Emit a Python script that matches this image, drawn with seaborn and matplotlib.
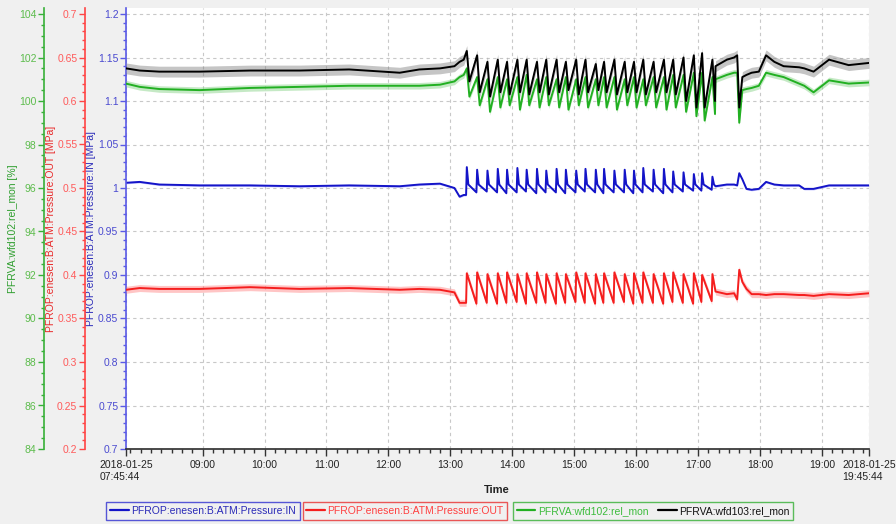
import pandas as pd
import numpy as np
import matplotlib
matplotlib.use("Agg")
import matplotlib.pyplot as plt
import matplotlib.dates as mdates
from matplotlib.lines import Line2D
from matplotlib.ticker import MultipleLocator
import seaborn as sns

DAY = "2018-01-25 "
t_start = "07:45:44"
t_end = "19:45:44"
hour_ticks = ["09:00", "10:00", "11:00", "12:00", "13:00", "14:00",
              "15:00", "16:00", "17:00", "18:00", "19:00"]

# time of each pressure peak during the oscillating period
cycle_times = ["13:16", "13:26", "13:36", "13:46", "13:55", "14:05", "14:14",
               "14:24", "14:33", "14:43", "14:52", "15:02", "15:11", "15:21",
               "15:29", "15:39", "15:49", "15:58", "16:07", "16:17", "16:27",
               "16:36", "16:46", "16:56", "17:04", "17:14"]

# calm period before / after the oscillations
pre_times = ["07:45:44", "07:59", "08:18", "08:57", "09:46", "10:34", "11:22",
             "12:11", "12:30", "12:50", "13:04", "13:09", "13:13"]
post_times = ["17:17", "17:28", "17:35", "17:38", "17:40", "17:43", "17:47",
              "17:52", "17:59", "18:06", "18:14", "18:23", "18:38", "18:43",
              "18:52", "19:07", "19:26", "19:45:44"]

# PFROP:enesen:B:ATM:Pressure:IN [MPa]
in_pre = [1.006, 1.007, 1.004, 1.003, 1.003, 1.002, 1.003, 1.002, 1.004, 1.005, 1.000, 0.990, 0.992]
in_peak = [1.024, 1.021, 1.020, 1.022, 1.021, 1.023, 1.021, 1.022, 1.020, 1.022, 1.021, 1.020, 1.022,
           1.021, 1.022, 1.020, 1.021, 1.020, 1.023, 1.021, 1.022, 1.019, 1.018, 1.016, 1.017, 1.013]
in_base = [0.992, 0.995, 0.996, 0.995, 0.994, 0.995, 0.996, 0.994, 0.995, 0.995, 0.994, 0.995, 0.996,
           0.995, 0.994, 0.995, 0.995, 0.994, 0.995, 0.996, 0.994, 0.995, 0.996, 0.997, 0.997, 0.998]
in_shoulder = 1.004
in_post = [1.002, 1.004, 1.004, 1.003, 1.017, 1.010, 0.999, 0.998, 0.999, 1.007, 1.004, 1.003,
           1.003, 0.999, 0.999, 1.003, 1.003, 1.003]

# PFROP:enesen:B:ATM:Pressure:OUT [MPa]
out_pre = [0.383, 0.385, 0.384, 0.384, 0.386, 0.384, 0.385, 0.383, 0.384, 0.383, 0.380, 0.368, 0.368]
out_peak = [0.402, 0.403, 0.401, 0.402, 0.403, 0.401, 0.402, 0.403, 0.401, 0.402, 0.401, 0.403, 0.402,
            0.401, 0.402, 0.403, 0.401, 0.402, 0.403, 0.401, 0.402, 0.403, 0.401, 0.402, 0.400, 0.401]
out_trough = [0.368, 0.367, 0.368, 0.367, 0.368, 0.369, 0.367, 0.368, 0.368, 0.367, 0.368, 0.369, 0.368,
              0.367, 0.368, 0.368, 0.369, 0.367, 0.368, 0.368, 0.367, 0.369, 0.368, 0.367, 0.369, 0.370]
out_post = [0.381, 0.378, 0.379, 0.372, 0.406, 0.392, 0.384, 0.378, 0.378, 0.377, 0.378, 0.378,
            0.377, 0.377, 0.376, 0.378, 0.377, 0.379]

# PFRVA:wfd102:rel_mon [%]
w102_pre = [100.8, 100.65, 100.55, 100.5, 100.6, 100.65, 100.7, 100.7, 100.7, 100.75, 100.9, 101.1, 101.2]
w102_peak = [101.5, 101.1, 101.0, 101.1, 101.0, 101.1, 101.2, 101.0, 101.1, 101.0, 101.1, 101.0, 101.1,
             101.0, 101.1, 101.1, 101.0, 101.1, 101.0, 101.1, 101.1, 101.2, 101.2, 101.3, 101.3, 101.1]
w102_trough = [100.2, 99.8, 99.5, 99.7, 99.8, 99.6, 99.8, 99.7, 99.8, 99.7, 99.6, 99.8, 99.7,
               99.8, 99.7, 99.6, 99.8, 99.7, 99.8, 99.7, 99.6, 99.7, 99.5, 99.3, 99.1, 99.4]
w102_post = [101.0, 101.2, 101.3, 101.3, 99.0, 100.5, 100.55, 100.6, 100.7, 101.3, 101.2, 101.1,
             100.8, 100.7, 100.4, 100.95, 100.8, 100.85]

# PFRVA:wfd103:rel_mon [%]
w103_pre = [101.5, 101.4, 101.35, 101.35, 101.4, 101.4, 101.45, 101.3, 101.45, 101.5, 101.6, 101.8, 101.9]
w103_peak = [102.3, 102.1, 101.8, 101.9, 101.8, 101.9, 101.9, 101.8, 101.9, 101.9, 101.8, 101.9, 101.9,
             101.7, 101.8, 101.9, 101.8, 101.8, 101.9, 101.8, 101.9, 101.9, 102.0, 102.1, 102.2, 101.9]
w103_trough = [100.9, 100.4, 100.2, 100.4, 100.3, 100.4, 100.3, 100.4, 100.3, 100.4, 100.5, 100.3, 100.4,
               100.5, 100.4, 100.3, 100.4, 100.4, 100.3, 100.4, 100.4, 100.3, 100.0, 99.7, 99.7, 100.0]
w103_post = [101.6, 101.9, 102.0, 102.1, 99.7, 101.1, 101.2, 101.3, 101.35, 102.1, 101.8, 101.6,
             101.55, 101.5, 101.35, 101.9, 101.65, 101.75]

# half width of the min/max band drawn around each trace
band_in, band_out, band_102, band_103 = 0.0012, 0.004, 0.15, 0.25


def stamp(hhmm, minutes=0.0):
    return pd.Timestamp(DAY + hhmm) + pd.Timedelta(minutes=minutes)


def build(pre, shape, post):
    rows = [(stamp(t), v) for t, v in zip(pre_times, pre)]
    for i, ct in enumerate(cycle_times):
        for off, vals in shape:
            rows.append((stamp(ct, off), vals[i] if isinstance(vals, list) else vals))
    rows += [(stamp(t), v) for t, v in zip(post_times, post)]
    return pd.DataFrame(rows, columns=["time", "value"]).sort_values("time")


df_in = build(in_pre, [(-0.7, in_base), (0, in_peak), (1.5, in_shoulder)], in_post)
df_out = build(out_pre, [(-0.7, out_trough), (0, out_peak)], out_post)
df_102 = build(w102_pre, [(0, w102_peak), (2.5, w102_trough)], w102_post)
df_103 = build(w103_pre, [(0, w103_peak), (2.5, w103_trough)], w103_post)

sns.set_theme(style="white")
plt.rcParams["font.family"] = ["Liberation Sans", "DejaVu Sans"]
FS = 7.5
BG = "#f0f0f0"

fig = plt.figure(figsize=(8.96, 5.24), dpi=100, facecolor=BG)
ax = fig.add_axes([126 / 896, 1 - 449 / 524, 743 / 896, 441 / 524])
ax_out = ax.twinx()
ax_pct = ax.twinx()

blue, red, green = "#1414c8", "#f51e1e", "#22b022"
ext = 6 / 435  # white area reaches slightly above the top tick


def trace(a, df, color, band, band_color, band_alpha):
    a.fill_between(df["time"], df["value"] - band, df["value"] + band,
                   color=band_color, alpha=band_alpha, lw=0)
    sns.lineplot(data=df, x="time", y="value", ax=a, color=color, lw=1.4,
                 estimator=None)


trace(ax, df_in, blue, band_in, "#8080ff", 0.45)
trace(ax_out, df_out, red, band_out, "#ff8080", 0.45)
trace(ax_pct, df_102, green, band_102, "#80d080", 0.45)
trace(ax_pct, df_103, "black", band_103, "#808080", 0.45)

ax.set_ylim(0.7, 1.2 + 0.5 * ext)
ax_out.set_ylim(0.2, 0.7 + 0.5 * ext)
ax_pct.set_ylim(84, 104 + 20 * ext)
ax.set_xlim(stamp(t_start), stamp(t_end))

# y axes: blue on the plot edge, red and green pushed out to the left
axis_styles = [
    (ax, 0, -30, "#5a5ae6", "#4a4ad0", "#2a2ab8", 0.05, 0.01,
     "PFROP:enesen:B:ATM:Pressure:IN [MPa]"),
    (ax_out, 41, -70, "#ff4545", "#ff5a5a", "#e82828", 0.05, 0.01,
     "PFROP:enesen:B:ATM:Pressure:OUT [MPa]"),
    (ax_pct, 82, -108, "#38b038", "#5cbc4c", "#2e9e2e", 2, 0.5,
     "PFRVA:wfd102:rel_mon [%]"),
]
for a, off, lab_x, spine_c, tick_c, label_c, major, minor, label in axis_styles:
    a.yaxis.tick_left()
    a.yaxis.set_label_position("left")
    for s in ("top", "right", "bottom"):
        a.spines[s].set_visible(False)
    a.spines["left"].set_visible(True)
    a.spines["left"].set_position(("outward", off * 0.72))
    a.spines["left"].set_color(spine_c)
    a.spines["left"].set_linewidth(1.2)
    a.yaxis.set_major_locator(MultipleLocator(major))
    a.yaxis.set_minor_locator(MultipleLocator(minor))
    a.yaxis.set_major_formatter(matplotlib.ticker.FuncFormatter(lambda v, p: f"{round(v, 3):g}"))
    a.tick_params(axis="y", which="major", length=4.5, width=1, color=spine_c,
                  labelcolor=tick_c, labelsize=FS, pad=1, left=True)
    a.tick_params(axis="y", which="minor", length=2.5, width=1, color=spine_c, left=True)
    a.set_ylabel(label, color=label_c, fontsize=FS)
    a.yaxis.set_label_coords(lab_x / 743, 0.5)
    a.set_xlabel("")

# x axis
xticks = [stamp(t_start)] + [stamp(h) for h in hour_ticks] + [stamp(t_end)]
xlabels = ["2018-01-25\n07:45:44"] + hour_ticks + ["2018-01-25\n19:45:44"]
ax.set_xticks(xticks)
ax.set_xticklabels(xlabels)
for t in ax.get_xticklabels():
    t.set_multialignment("left")
ax.xaxis.set_minor_locator(mdates.MinuteLocator(byminute=range(0, 60, 10)))
ax.tick_params(axis="x", which="major", length=5, width=1, color="#333333",
               labelsize=FS, labelcolor="#222222", pad=3, bottom=True)
ax.tick_params(axis="x", which="minor", length=3, width=1, color="#333333", bottom=True)
ax.spines["bottom"].set_visible(True)
ax.spines["bottom"].set_color("#333333")
ax.set_xlabel("")

ax.set_facecolor("white")
ax.set_axisbelow(True)
ax.grid(True, which="major", color="#c8c8c8", ls=(0, (3, 3)), lw=0.8)
ax_out.grid(False)
ax_pct.grid(False)

fig.text(497 / 896, 1 - 490 / 524, "Time", ha="center", va="center",
         fontsize=FS + 0.5, fontweight="bold", color="#222222")

# one legend box per y axis
legend_specs = [
    (203 / 896, "#3030d0", [("PFROP:enesen:B:ATM:Pressure:IN", blue, "#2a2ab8")]),
    (405 / 896, "#e83030", [("PFROP:enesen:B:ATM:Pressure:OUT", red, "#ff4040")]),
    (653 / 896, "#34b034", [("PFRVA:wfd102:rel_mon", green, "#3cbc3c"),
                            ("PFRVA:wfd103:rel_mon", "black", "#111111")]),
]
for xc, edge, entries in legend_specs:
    handles = [Line2D([], [], color=c, lw=1.6) for _, c, _ in entries]
    leg = fig.legend(handles, [e[0] for e in entries], loc="center",
                     bbox_to_anchor=(xc, 1 - 511 / 524), ncol=len(entries),
                     fontsize=FS, frameon=True, fancybox=False,
                     handlelength=1.8, handletextpad=0.25, columnspacing=0.9,
                     borderpad=0.35, borderaxespad=0)
    leg.get_frame().set_edgecolor(edge)
    leg.get_frame().set_facecolor(BG)
    leg.get_frame().set_linewidth(1.0)
    for txt, (_, _, tc) in zip(leg.get_texts(), entries):
        txt.set_color(tc)

fig.savefig("out.png", dpi=100, facecolor=BG)
